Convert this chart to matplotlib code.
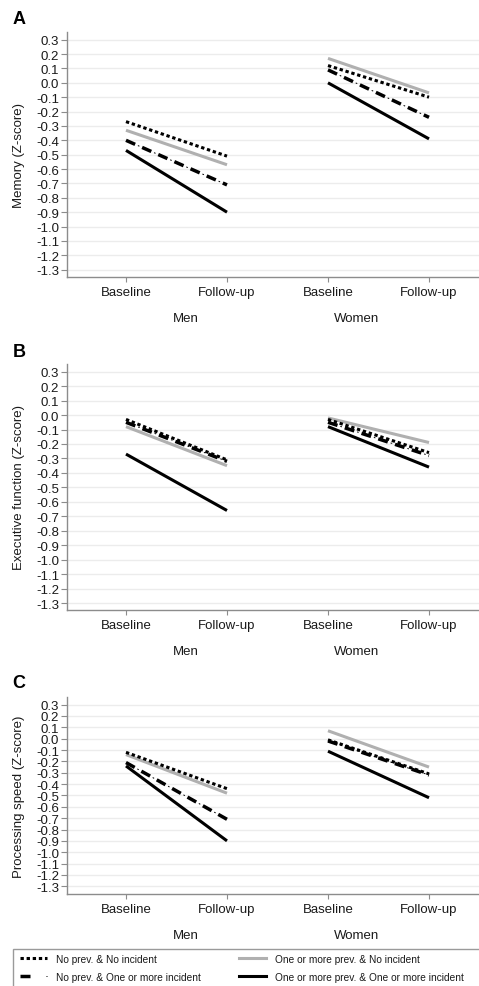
import matplotlib
matplotlib.use("Agg")
import matplotlib.pyplot as plt
from matplotlib.lines import Line2D
from matplotlib.patches import Rectangle
from matplotlib.legend_handler import HandlerTuple

plt.rcParams['font.family'] = ['Liberation Sans', 'DejaVu Sans']
plt.rcParams['lines.scale_dashes'] = False

# ---------------- data ----------------
x_labels = ['Baseline', 'Follow-up', 'Baseline', 'Follow-up']
groups = ['Men', 'Women']
panel_letters = ['A', 'B', 'C']
y_titles = ['Memory (Z-score)', 'Executive function (Z-score)', 'Processing speed (Z-score)']
series_names = ['No prev. & No incident', 'No prev. & One or more incident',
                'One or more prev. & No incident', 'One or more prev. & One or more incident']
y_ticks = [0.3, 0.2, 0.1, 0.0, -0.1, -0.2, -0.3, -0.4, -0.5, -0.6, -0.7,
           -0.8, -0.9, -1.0, -1.1, -1.2, -1.3]
y_tick_labels = ['0.3', '0.2', '0.1', '0.0', '-0.1', '-0.2', '-0.3', '-0.4', '-0.5',
                 '-0.6', '-0.7', '-0.8', '-0.9', '-1.0', '-1.1', '-1.2', '-1.3']

# values: [men baseline, men follow-up, women baseline, women follow-up]
memory_nn = [-0.27, -0.51, 0.12, -0.10]
memory_ni = [-0.40, -0.71, 0.09, -0.24]
memory_pn = [-0.33, -0.57, 0.17, -0.07]
memory_pi = [-0.47, -0.90, 0.00, -0.39]

exec_nn = [-0.03, -0.31, -0.03, -0.26]
exec_ni = [-0.05, -0.32, -0.05, -0.28]
exec_pn = [-0.08, -0.35, -0.02, -0.19]
exec_pi = [-0.27, -0.66, -0.08, -0.36]

speed_nn = [-0.12, -0.44, -0.01, -0.31]
speed_ni = [-0.21, -0.71, -0.02, -0.32]
speed_pn = [-0.14, -0.48, 0.07, -0.25]
speed_pi = [-0.24, -0.90, -0.11, -0.52]

panels = [
    [memory_nn, memory_ni, memory_pn, memory_pi],
    [exec_nn, exec_ni, exec_pn, exec_pi],
    [speed_nn, speed_ni, speed_pn, speed_pi],
]

x_pos = [1, 2, 3, 4]
group_x = [1.594, 3.287]

# ---------------- layout ----------------
W, H = 479, 987
fig = plt.figure(figsize=(W / 100, H / 100), dpi=100)

# (top_px, bottom_px, ylim_top, ylim_bottom)
panel_geom = [
    (33, 278, 0.3536, -1.351),
    (365, 611, 0.353, -1.348),
    (697.7, 895, 0.370, -1.368),
]
letter_base = [24, 356.7, 688.3]
left_px = 67

SPINE = '#8c8c8c'
GRID = '#ececec'
GRAY = '#b0b0b0'

def draw_series(ax, vals, kind):
    for seg in (slice(0, 2), slice(2, 4)):
        xs = x_pos[seg]
        ys = vals[seg]
        if kind == 'dot':
            ax.plot(xs, ys, color='black', lw=2.2, linestyle=(0, (2.4, 2.0)),
                    dash_capstyle='butt', zorder=5)
        elif kind == 'dashdot':
            ax.plot(xs, ys, color='black', lw=2.5, linestyle=(0, (7.2, 5.5)),
                    dash_capstyle='butt', zorder=4)
            ax.plot(xs, ys, color='black', lw=0.7, linestyle=(3.35, (1.2, 11.5)),
                    dash_capstyle='butt', zorder=4)
        elif kind == 'gray':
            ax.plot(xs, ys, color=GRAY, lw=2.2, solid_capstyle='butt', zorder=3)
        else:
            ax.plot(xs, ys, color='black', lw=2.2, solid_capstyle='butt', zorder=3)

for i, (top, bot, yt, yb) in enumerate(panel_geom):
    ax = fig.add_axes([left_px / W, 1 - bot / H, 1 - left_px / W, (bot - top) / H])
    ax.set_xlim(0.416, 4.495)
    ax.set_ylim(yb, yt)
    for s in ['top', 'right']:
        ax.spines[s].set_visible(False)
    for s in ['left', 'bottom']:
        ax.spines[s].set_color(SPINE)
        ax.spines[s].set_linewidth(1.0)
    ax.set_yticks(y_ticks)
    ax.set_yticklabels(y_tick_labels)
    ax.set_xticks(x_pos)
    ax.set_xticklabels(x_labels)
    ax.tick_params(axis='y', length=4.5, width=0.8, color=SPINE, pad=1,
                   labelsize=9.5, labelcolor='#1a1a1a')
    ax.tick_params(axis='x', length=3.6, width=0.8, color=SPINE, pad=3,
                   labelsize=9.5, labelcolor='#1a1a1a')
    for yv in y_ticks:
        ax.axhline(yv, color=GRID, lw=1.0, zorder=0)
    ax.set_ylabel(y_titles[i], fontsize=9.5, color='#1a1a1a')
    ax.yaxis.set_label_coords(-0.103, 0.5)
    vals = panels[i]
    draw_series(ax, vals[2], 'gray')
    draw_series(ax, vals[3], 'solid')
    draw_series(ax, vals[1], 'dashdot')
    draw_series(ax, vals[0], 'dot')
    for gx, g in zip(group_x, groups):
        ax.annotate(g, xy=(gx, 0), xycoords=('data', 'axes fraction'),
                    xytext=(0, -29.5), textcoords='offset points',
                    ha='center', va='center', fontsize=9.5, color='#1a1a1a')
    fig.text(12.7 / W, 1 - letter_base[i] / H, panel_letters[i], fontsize=13,
             fontweight='bold', ha='left', va='baseline')

# ---------------- legend ----------------
fig.patches.append(Rectangle((13 / W, 1 - 1000 / H), (W + 10 - 13) / W, (1000 - 950) / H,
                             transform=fig.transFigure, fill=False,
                             edgecolor='#9a9a9a', lw=1.0))
h_dot = Line2D([], [], color='black', lw=2.2, linestyle=(0, (2.4, 2.0)), dash_capstyle='butt')
h_dd1 = Line2D([], [], color='black', lw=2.5, linestyle=(0, (7.2, 5.5)), dash_capstyle='butt')
h_dd2 = Line2D([], [], color='black', lw=0.7, linestyle=(3.35, (1.2, 11.5)), dash_capstyle='butt')
h_gray = Line2D([], [], color=GRAY, lw=2.2)
h_solid = Line2D([], [], color='black', lw=2.2)
leg = fig.legend([h_dot, (h_dd1, h_dd2), h_gray, h_solid], series_names,
                 handler_map={tuple: HandlerTuple(ndivide=None, pad=0)},
                 ncol=2, loc='upper left', bbox_to_anchor=(20 / W, 1 - 955 / H),
                 frameon=False, fontsize=7.3, handlelength=2.66, handletextpad=0.86,
                 columnspacing=3.8, labelspacing=0.78, borderpad=0, borderaxespad=0)
for t in leg.get_texts():
    t.set_color('#1a1a1a')

fig.savefig('out.png', dpi=100)
